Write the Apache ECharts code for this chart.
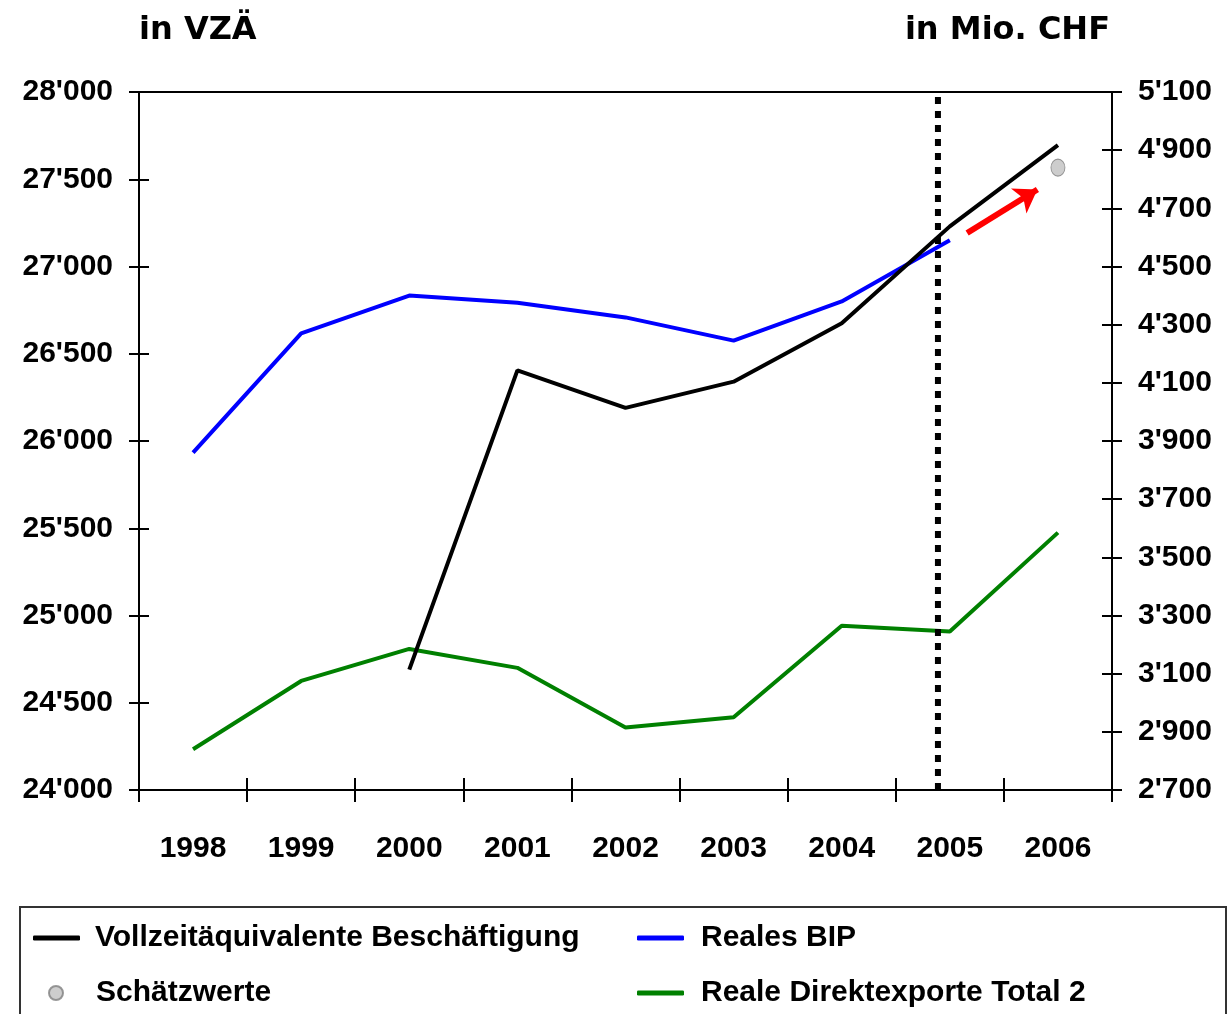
<!DOCTYPE html>
<html>
<head>
<meta charset="utf-8">
<script src="https://cdn.jsdelivr.net/npm/echarts@6/dist/echarts.min.js"></script>
<style>
  html, body { margin: 0; padding: 0; background: #fff; }
  #chart { width: 1227px; height: 1014px; }
</style>
</head>
<body>
<div id="chart"></div>
<script>
var years = ['1998', '1999', '2000', '2001', '2002', '2003', '2004', '2005', '2006'];

// linke Achse (VZÄ)
var beschaeftigung = [null, null, 24690, 26405, 26190, 26340, 26675, 27230, 27695];
// rechte Achse (Mio. CHF)
var realesBip = [3860, 4270, 4400, 4375, 4325, 4245, 4380, 4590, null];
var direktexporte = [2840, 3075, 3185, 3120, 2915, 2950, 3265, 3245, 3585];
var schaetzwerte = [null, null, null, null, null, null, null, null, 4840];

// Pfeil (Jahresindex, Mio. CHF) und Trennlinie
var pfeil = [[7.16, 4615], [7.81, 4765]];
var trennlinie = 6.89;

var font = "'Liberation Sans', Arial, sans-serif";

function fmt(v) {
    return String(v).replace(/\B(?=(\d{3})+(?!\d))/g, "'");
}

var labelStyle = { fontFamily: font, fontWeight: 'bold', fontSize: 30, color: '#000' };
var tickStyle = { color: '#000', width: 2 };

var myChart = echarts.init(document.getElementById('chart'));

function legendBox(name, left, top, icon, w, h, gap) {
    return {
        data: [name],
        left: left,
        top: top,
        padding: 0,
        icon: icon,
        itemWidth: w,
        itemHeight: h,
        selectedMode: false,
        textStyle: {
            fontFamily: font, fontWeight: 'bold', fontSize: 30, color: '#000',
            lineHeight: 36, padding: [0, 0, 0, gap]
        }
    };
}

var option = {
    animation: false,
    backgroundColor: '#fff',
    title: [
        { text: 'in VZÄ', left: 139, top: 15, padding: 0,
          textStyle: { fontFamily: 'DejaVu Sans', fontWeight: 'bold', fontSize: 32, color: '#000' } },
        { text: 'in Mio. CHF', right: 117, top: 15, padding: 0,
          textStyle: { fontFamily: 'DejaVu Sans', fontWeight: 'bold', fontSize: 32, color: '#000' } }
    ],
    legend: [
        legendBox('Vollzeitäquivalente Beschäftigung', 33, 920, 'roundRect', 47, 5, 10),
        legendBox('Schätzwerte', 48, 975, 'circle', 14, 14, 28),
        legendBox('Reales BIP', 637, 920, 'roundRect', 47, 5, 12),
        legendBox('Reale Direktexporte Total 2', 637, 975, 'roundRect', 47, 5, 12)
    ],
    graphic: [
        { type: 'rect', shape: { x: 20, y: 907, width: 1206, height: 140 },
          style: { fill: 'none', stroke: '#333', lineWidth: 2 } }
    ],
    grid: {
        left: 139, right: 115, top: 92, bottom: 224,
        show: true, borderColor: '#000', borderWidth: 2, backgroundColor: 'transparent'
    },
    xAxis: [
        {
            type: 'category', data: years, position: 'bottom',
            axisLine: { onZero: false, lineStyle: { color: '#000', width: 2 } },
            axisTick: { show: true, inside: false, length: 12, lineStyle: tickStyle },
            axisLabel: Object.assign({ margin: 44 }, labelStyle),
            splitLine: { show: false }
        },
        {
            type: 'value', min: -0.5, max: 8.5, show: false,
            axisLine: { onZero: false }
        },
        {
            type: 'category', data: years, position: 'bottom',
            axisLine: { show: false, onZero: false },
            axisTick: { show: true, inside: true, length: 12, lineStyle: tickStyle },
            axisLabel: { show: false },
            splitLine: { show: false }
        }
    ],
    yAxis: [
        {
            type: 'value', min: 24000, max: 28000, interval: 500, position: 'left',
            axisLine: { show: true, onZero: false, lineStyle: { color: '#000', width: 2 } },
            axisTick: { show: true, inside: false, length: 10, lineStyle: tickStyle },
            axisLabel: Object.assign({ margin: 26, formatter: fmt }, labelStyle),
            splitLine: { show: false }
        },
        {
            type: 'value', min: 2700, max: 5100, interval: 200, position: 'right',
            axisLine: { show: true, onZero: false, lineStyle: { color: '#000', width: 2 } },
            axisTick: { show: true, inside: false, length: 10, lineStyle: tickStyle },
            axisLabel: Object.assign({ margin: 26, formatter: fmt }, labelStyle),
            splitLine: { show: false }
        },
        {
            type: 'value', min: 24000, max: 28000, interval: 500, position: 'left',
            axisLine: { show: false, onZero: false },
            axisTick: { show: true, inside: true, length: 10, lineStyle: tickStyle },
            axisLabel: { show: false },
            splitLine: { show: false }
        },
        {
            type: 'value', min: 2700, max: 5100, interval: 200, position: 'right',
            axisLine: { show: false, onZero: false },
            axisTick: { show: true, inside: true, length: 10, lineStyle: tickStyle },
            axisLabel: { show: false },
            splitLine: { show: false }
        }
    ],
    series: [
        {
            name: 'Reale Direktexporte Total 2', type: 'line', xAxisIndex: 0, yAxisIndex: 1,
            data: direktexporte, showSymbol: false, color: '#008000',
            lineStyle: { width: 4, color: '#008000' }
        },
        {
            name: 'Reales BIP', type: 'line', xAxisIndex: 0, yAxisIndex: 1,
            data: realesBip, showSymbol: false, color: '#0000ff',
            lineStyle: { width: 4, color: '#0000ff' }
        },
        {
            name: 'Vollzeitäquivalente Beschäftigung', type: 'line', xAxisIndex: 0, yAxisIndex: 0,
            data: beschaeftigung, showSymbol: false, color: '#000',
            lineStyle: { width: 4, color: '#000' }
        },
        {
            name: 'Trennlinie', type: 'line', xAxisIndex: 1, yAxisIndex: 1,
            data: [[trennlinie, 2700], [trennlinie, 5100]], showSymbol: false, silent: true,
            lineStyle: { width: 6, color: '#000', type: [7, 7], cap: 'butt' }, z: 5
        },
        {
            name: 'Schätzwerte', type: 'scatter', xAxisIndex: 0, yAxisIndex: 1,
            data: schaetzwerte, symbol: 'circle', symbolSize: [14, 17], color: '#c0c0c0',
            itemStyle: { color: '#c0c0c0', borderColor: '#808080', borderWidth: 1 }
        },
        {
            name: 'Pfeil', type: 'lines', coordinateSystem: 'cartesian2d', xAxisIndex: 1, yAxisIndex: 1,
            symbol: ['none', 'arrow'], symbolSize: 22, silent: true,
            lineStyle: { color: '#ff0000', width: 6, opacity: 1 },
            data: [{ coords: pfeil }]
        }
    ]
};

myChart.setOption(option);
</script>
</body>
</html>
